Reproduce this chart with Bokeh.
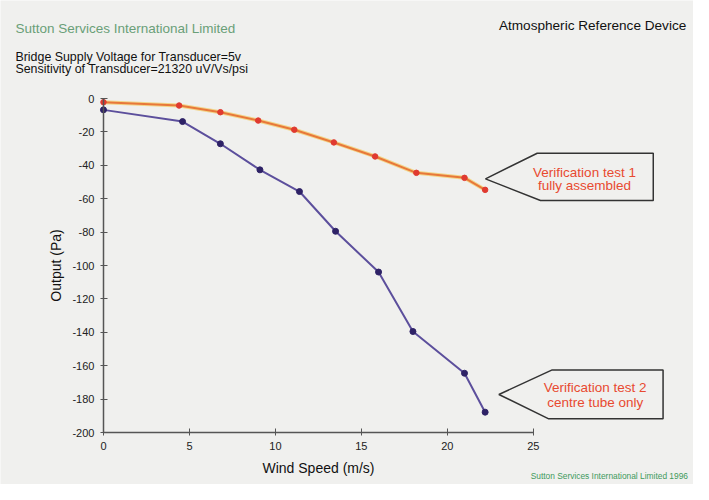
from bokeh.plotting import figure
from bokeh.models import Range1d, FixedTicker, Label, ColumnDataSource
from bokeh.embed import file_html
from bokeh.resources import INLINE

# --- data ---
speed_1 = [0.0, 4.4, 6.8, 9.0, 11.1, 13.4, 15.8, 18.2, 21.0, 22.2]
output_1 = [-2.2, -4.2, -8.2, -13.2, -18.7, -26.3, -34.7, -44.5, -47.5, -54.7]
speed_2 = [0.0, 4.6, 6.8, 9.1, 11.4, 13.5, 16.0, 18.0, 21.0, 22.2]
output_2 = [-6.8, -13.8, -27.1, -42.7, -55.7, -79.5, -103.9, -139.5, -164.5, -187.8]
x_ticks = [0, 5, 10, 15, 20, 25]
y_ticks = [0, -20, -40, -60, -80, -100, -120, -140, -160, -180, -200]

# callout shapes (annotation outlines)
callout1_x = [22.22, 25.23, 31.98, 31.98, 25.42]
callout1_y = [-48.1, -32.75, -32.75, -61.1, -61.1]
callout2_x = [23.0, 26.1, 32.55, 32.55, 25.9]
callout2_y = [-177.2, -162.5, -162.5, -191.8, -191.8]

FONT = "Liberation Sans"
BG = "#f0f0ee"

p = figure(width=693, height=484, output_backend="svg", toolbar_location=None,
           x_range=Range1d(-5.99, 34.32), y_range=Range1d(-231.1, 58.68),
           min_border=0)
p.background_fill_color = BG
p.border_fill_color = BG
p.outline_line_color = None
p.xgrid.visible = False
p.ygrid.visible = False

for ax in (p.xaxis[0], p.yaxis[0]):
    ax.axis_line_color = "#555555"
    ax.axis_line_width = 1.5
    ax.major_tick_line_color = "#555555"
    ax.major_tick_in = 4
    ax.major_tick_out = 3
    ax.minor_tick_line_color = None
    ax.major_label_text_font = FONT
    ax.major_label_text_font_size = "11px"
    ax.major_label_text_color = "#222222"
    ax.axis_label_text_font = FONT
    ax.axis_label_text_font_style = "normal"
    ax.axis_label_text_font_size = "14px"
    ax.axis_label_text_color = "#111111"

p.xaxis[0].fixed_location = -200
p.yaxis[0].fixed_location = 0
p.xaxis[0].bounds = (0, 25)
p.yaxis[0].bounds = (-200, 0)
p.xaxis[0].ticker = FixedTicker(ticks=x_ticks)
p.yaxis[0].ticker = FixedTicker(ticks=y_ticks)
p.xaxis[0].major_label_overrides = {t: str(t) for t in x_ticks}
p.yaxis[0].major_label_overrides = {t: str(t) for t in y_ticks}
p.xaxis[0].axis_label = "Wind Speed (m/s)"
p.yaxis[0].axis_label = "Output (Pa)"
p.xaxis[0].major_label_standoff = 6
p.yaxis[0].major_label_standoff = 6
p.xaxis[0].axis_label_standoff = 7
p.yaxis[0].axis_label_standoff = 5

s1 = ColumnDataSource(dict(x=speed_1, y=output_1))
s2 = ColumnDataSource(dict(x=speed_2, y=output_2))

p.line("x", "y", source=s1, line_color="#f2d58a", line_width=4)
p.line("x", "y", source=s1, line_color="#e8783a", line_width=2)
p.scatter("x", "y", source=s1, size=5.5, fill_color="#e03a30", line_color="#e03a30")

p.line("x", "y", source=s2, line_color="#5c4f9c", line_width=2)
p.scatter("x", "y", source=s2, size=6, fill_color="#2e2266", line_color="#2e2266")

p.patch(callout1_x, callout1_y, fill_color=BG, line_color="#333333", line_width=1.5)
p.patch(callout2_x, callout2_y, fill_color=BG, line_color="#333333", line_width=1.5)

def lab(x, y, text, size, color, align="left"):
    p.add_layout(Label(x=x, y=y, text=text, text_font=FONT, text_font_size=size,
                       text_color=color, text_align=align, text_baseline="middle"))

lab(-5.12, 41.9, "Sutton Services International Limited", "13.5px", "#6a9f78")
lab(33.9, 43.7, "Atmospheric Reference Device", "13.6px", "#111111", "right")
lab(-5.12, 25.1, "Bridge Supply Voltage for Transducer=5v", "12.4px", "#111111")
lab(-5.12, 17.4, "Sensitivity of Transducer=21320 uV/Vs/psi", "12.4px", "#111111")
lab(34.0, -226.3, "Sutton Services International Limited 1996", "8.4px", "#3f9a5c", "right")
lab(27.98, -44.1, "Verification test 1", "13.5px", "#e84a30", "center")
lab(27.98, -52.1, "fully assembled", "13.5px", "#e84a30", "center")
lab(28.6, -172.9, "Verification test 2", "13.5px", "#e84a30", "center")
lab(28.6, -181.9, "centre tube only", "13.5px", "#e84a30", "center")

open("out.html", "w").write(file_html(p, INLINE))
